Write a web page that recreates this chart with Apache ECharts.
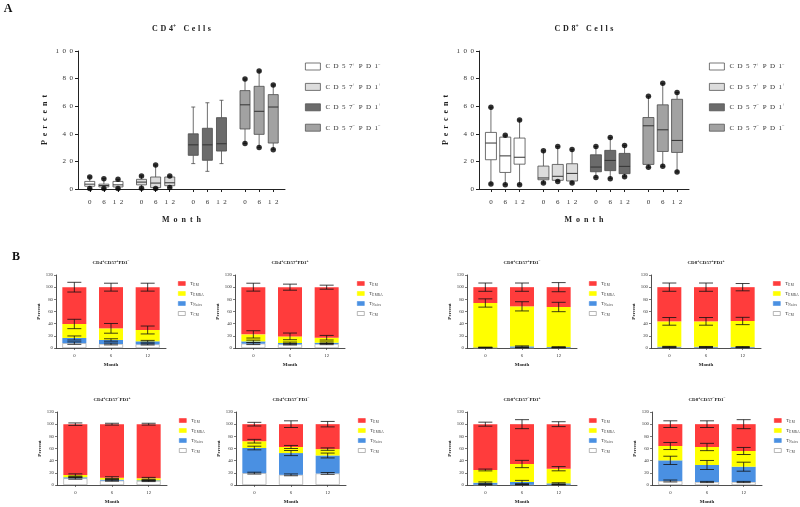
<!DOCTYPE html>
<html><head><meta charset="utf-8">
<script src="https://cdn.jsdelivr.net/npm/echarts@6/dist/echarts.min.js"></script>
<style>html,body{margin:0;padding:0;background:#fff}#c{width:800px;height:507px}</style>
</head><body><div id="c"></div>
<script>
const FONT = "'Liberation Serif','DejaVu Serif',serif";
const TXT = '#222';

// ---------- Panel A data ----------
const MONTHS = ['0', '6', '12'];
const BOX_GROUPS = ['CD57+PD1-', 'CD57+PD1+', 'CD57-PD1+', 'CD57-PD1-'];
const BOX_COLORS = ['#ffffff', '#dcdcdc', '#6b6b6b', '#a2a2a2'];
// per group, per month: [low, Q1, median, Q3, high]
const CD4_BOX = [
  [[0.3, 2, 3.5, 5.5, 8.7], [0.3, 1.5, 2.5, 3.5, 7.5], [0.3, 1.5, 3, 5.5, 7]],
  [[0.5, 3, 5, 7, 9.5], [0.4, 1, 4.3, 8.7, 17.4], [1, 2.4, 4.5, 8.7, 9.5]],
  [[18.4, 24.4, 32, 40, 59.4], [12.8, 20.8, 32, 44, 62.5], [18.4, 27.5, 32.8, 51.7, 64.3]],
  [[32.9, 43.5, 61, 71.3, 79.7], [30, 39.6, 56.3, 74.4, 85.5], [28.5, 33.3, 59.4, 68.4, 75.4]]
];
const CD4_DOTS = [true, true, false, true];
const CD8_BOX = [
  [[3.6, 21.2, 33.3, 41, 59.3], [3.1, 12, 24, 37.6, 39], [3.1, 18, 23, 36.9, 50]],
  [[4.3, 6.7, 8, 16.6, 27.7], [5.5, 6.3, 9.2, 17.8, 30.8], [4.3, 5.8, 11.3, 18.3, 28.7]],
  [[8.4, 12.5, 15.9, 24.8, 30.8], [7.5, 13.3, 20.7, 28, 37.3], [8.9, 11.1, 16.4, 25.8, 31.6]],
  [[15.7, 17.8, 45.8, 51.8, 67.2], [16.4, 27.2, 42.9, 61, 76.6], [12.3, 26.5, 35.2, 65, 69.9]]
];
const CD8_DOTS = [true, true, true, true];

// ---------- Panel B data ----------
const SUBSETS = ['TCM', 'TNaive', 'TEMRA', 'TEM'];          // stack order, bottom -> top
const SUBSET_SUB = { TCM: 'CM', TNaive: 'Naive', TEMRA: 'EMRA', TEM: 'EM' };
const SUBSET_COLORS = { TCM: '#ffffff', TNaive: '#4a90e2', TEMRA: '#ffff00', TEM: '#ff3c3c' };
const LEGEND_ORDER = ['TEM', 'TEMRA', 'TNaive', 'TCM'];
const B_TITLES = ['CD4+CD57+PD1-', 'CD4+CD57+PD1+', 'CD8+CD57+PD1-', 'CD8+CD57+PD1+',
                  'CD4+CD57-PD1+', 'CD4+CD57-PD1-', 'CD8+CD57-PD1+', 'CD8+CD57-PD1-'];
// rows: TCM, TNaive, TEMRA, TEM ; columns: months 0, 6, 12
const B1_MEAN = [[8, 6.6, 6], [8.5, 6.6, 5], [23, 19.1, 18.6], [60.5, 67.7, 70.4]];
const B1_SD   = [[2, 1.5, 1], [3.3, 2, 1.5], [7.7, 8, 6.5], [8, 6.5, 6.5]];
const B2_MEAN = [[7.1, 6, 6.5], [3.8, 2.2, 2.2], [11.5, 10.9, 8.2], [77.6, 80.9, 83.1]];
const B2_SD   = [[1.5, 1, 1], [2, 1.5, 1.2], [6, 5.5, 3.8], [6.5, 5, 3.3]];
const B3_MEAN = [[0.5, 0.5, 0.5], [0.5, 2.2, 1.1], [73, 65.8, 65.8], [26, 31.5, 32.6]];
const B3_SD   = [[0.3, 0.3, 0.3], [0.5, 0.8, 0.6], [6.8, 7.6, 7.7], [6.8, 6.8, 7.5]];
const B4_MEAN = [[1, 1, 0.8], [1.2, 1, 1], [41.6, 41.8, 42.6], [56.2, 56.2, 55.6]];
const B4_SD   = [[0.4, 0.4, 0.4], [0.5, 0.5, 0.5], [6.3, 6.3, 6], [6.8, 6.8, 6]];
const B5_MEAN = [[11, 7.2, 6.6], [1.7, 1.6, 1.1], [3.8, 3.3, 3.3], [83.5, 87.9, 89]];
const B5_SD   = [[1.5, 1, 1], [0.8, 0.6, 0.6], [1.8, 1.5, 1.5], [2, 1.5, 1.5]];
const B6_MEAN = [[19.5, 16.7, 19], [41.3, 35.8, 29.5], [11.2, 10, 10.5], [28, 37.5, 41]];
const B6_SD   = [[1.5, 1.5, 1.5], [3, 4.2, 4], [3, 2.5, 2], [3, 5.5, 4.5]];
const B7_MEAN = [[0.5, 0.5, 0.5], [3.3, 4.4, 2.2], [20.9, 29.6, 24.1], [75.3, 65.5, 73.2]];
const B7_SD   = [[0.3, 0.3, 0.3], [1.2, 2.7, 1], [1.5, 6, 3.5], [3.3, 7.4, 4]];
const B8_MEAN = [[6.6, 4.9, 4.9], [33.9, 28, 25.2], [23.6, 29.6, 25.8], [35.9, 37.5, 44.1]];
const B8_SD   = [[1.6, 1, 1], [6.8, 7.4, 7.4], [5.8, 6, 5.8], [5.5, 5.5, 7.4]];
const B_MEANS = [B1_MEAN, B2_MEAN, B3_MEAN, B4_MEAN, B5_MEAN, B6_MEAN, B7_MEAN, B8_MEAN];
const B_SDS = [B1_SD, B2_SD, B3_SD, B4_SD, B5_SD, B6_SD, B7_SD, B8_SD];

// ---------- helpers ----------
const EN = '\u2002';
const spaced = (s, sp) => String(s).split('').join(sp);
function signText(str, sp) {
  let out = '', buf = '', first = true;
  const flush = () => { if (buf) { out += '{n|' + buf + '}'; buf = ''; } };
  for (const c of str) {
    if (c === '+' || c === '-') { flush(); out += '{s|' + (c === '+' ? '+' : '\u2212') + '}'; }
    else { buf += (first ? '' : sp) + c; }
    first = false;
  }
  flush();
  return out;
}

// slot layout of the box-plot category axis (44 slots, 3 months per group, gap between groups)
const NSLOT = 44;
const slotOf = (g, m) => 2 + g * 11 + m * 3;
const SLOTS = Array.from({ length: NSLOT }, (_, i) => 's' + i);
const SLOT_LABEL = Array(NSLOT).fill('');
for (let g = 0; g < 4; g++) for (let m = 0; m < 3; m++) SLOT_LABEL[slotOf(g, m)] = spaced(MONTHS[m], EN);

const grids = [], xAxes = [], yAxes = [], series = [], legends = [], graphics = [];

// ---------- Panel A ----------
const A_PANELS = [
  { title: 'CD4+ Cells', stats: CD4_BOX, dots: CD4_DOTS, left: 78, width: 207, boxW: 10, legLeft: 300 },
  { title: 'CD8+ Cells', stats: CD8_BOX, dots: CD8_DOTS, left: 479, width: 210, boxW: 11, legLeft: 704 }
];
A_PANELS.forEach((p, pi) => {
  grids.push({ left: p.left, top: 51, width: p.width, height: 138 });
  xAxes.push({
    gridIndex: pi, type: 'category', data: SLOTS, boundaryGap: true,
    axisLine: { show: true, lineStyle: { color: TXT, width: 1 } },
    axisTick: { show: true, length: 3, alignWithLabel: true, interval: (i) => SLOT_LABEL[i] !== '', lineStyle: { color: TXT } },
    axisLabel: { show: true, interval: (i) => SLOT_LABEL[i] !== '', formatter: (v, i) => SLOT_LABEL[i],
      fontSize: 7, margin: 10, color: '#333', fontFamily: FONT },
    splitLine: { show: false },
    name: spaced('Month', EN), nameLocation: 'middle', nameGap: 27,
    nameTextStyle: { fontSize: 8, fontWeight: 'bold', color: TXT, fontFamily: FONT }
  });
  yAxes.push({
    gridIndex: pi, type: 'value', min: 0, max: 100, interval: 20,
    axisLine: { show: true, lineStyle: { color: TXT, width: 1 } },
    axisTick: { show: true, length: 3, lineStyle: { color: TXT } },
    splitLine: { show: false },
    axisLabel: { fontSize: 7, margin: 5, color: '#333', fontFamily: FONT, formatter: (v) => spaced(v, EN) },
    name: spaced('Percent', EN), nameLocation: 'middle', nameGap: 29, nameRotate: 90,
    nameTextStyle: { fontSize: 8, fontWeight: 'bold', color: TXT, fontFamily: FONT }
  });
  const dotData = [];
  BOX_GROUPS.forEach((gname, g) => {
    const color = BOX_COLORS[g];
    const data = p.stats[g].map((s, m) => [slotOf(g, m)].concat(s));
    if (p.dots[g]) p.stats[g].forEach((s, m) => { dotData.push([slotOf(g, m), s[0]]); dotData.push([slotOf(g, m), s[4]]); });
    const bw = p.boxW;
    series.push({
      type: 'custom', name: gname, xAxisIndex: pi, yAxisIndex: pi,
      encode: { x: 0, y: [1, 2, 3, 4, 5] },
      itemStyle: { color },
      data,
      renderItem: (params, api) => {
        const x = api.value(0);
        const pt = [1, 2, 3, 4, 5].map(k => api.coord([x, api.value(k)]));
        const cx = pt[0][0];
        const ls = { stroke: '#4a4a4a', lineWidth: 0.8 };
        return {
          type: 'group', children: [
            { type: 'line', shape: { x1: cx, y1: pt[0][1], x2: cx, y2: pt[1][1] }, style: ls },
            { type: 'line', shape: { x1: cx, y1: pt[3][1], x2: cx, y2: pt[4][1] }, style: ls },
            { type: 'line', shape: { x1: cx - 2, y1: pt[0][1], x2: cx + 2, y2: pt[0][1] }, style: ls },
            { type: 'line', shape: { x1: cx - 2, y1: pt[4][1], x2: cx + 2, y2: pt[4][1] }, style: ls },
            { type: 'rect', shape: { x: cx - bw / 2, y: pt[3][1], width: bw, height: pt[1][1] - pt[3][1] },
              style: { fill: color, stroke: '#4a4a4a', lineWidth: 0.8 } },
            { type: 'line', shape: { x1: cx - bw / 2, y1: pt[2][1], x2: cx + bw / 2, y2: pt[2][1] },
              style: { stroke: '#333', lineWidth: 1 } }
          ]
        };
      }
    });
  });
  series.push({
    type: 'scatter', name: 'outliers', xAxisIndex: pi, yAxisIndex: pi, symbol: 'circle', symbolSize: 5.5,
    itemStyle: { color: '#000' }, data: dotData, z: 5
  });
  legends.push({
    orient: 'vertical', left: p.legLeft, top: 57, icon: 'rect', itemWidth: 15, itemHeight: 7, itemGap: 12,
    selectedMode: false,
    data: BOX_GROUPS.map((n, g) => ({ name: n, itemStyle: { color: BOX_COLORS[g], borderColor: '#555', borderWidth: 0.8 } })),
    formatter: (n) => signText(n, EN),
    textStyle: { rich: {
      n: { fontSize: 7, lineHeight: 9, color: '#333', fontFamily: FONT },
      s: { fontSize: 4.5, lineHeight: 5, verticalAlign: 'top', color: '#333', fontFamily: FONT }
    } }
  });
  graphics.push({
    type: 'text', x: p.left + p.width / 2, y: 29,
    style: { text: signText(p.title, '\u2004'), align: 'center', verticalAlign: 'middle',
      rich: {
        n: { fontSize: 8, fontWeight: 'bold', lineHeight: 11, fill: TXT, fontFamily: FONT },
        s: { fontSize: 5.5, fontWeight: 'bold', lineHeight: 6, verticalAlign: 'top', fill: TXT, fontFamily: FONT }
      } }
  });
});

// ---------- Panel B ----------
const B_POS = [[56, 275], [235, 275], [467, 275], [651, 275], [57, 412], [236, 412], [467, 412], [652, 412]];
B_TITLES.forEach((title, k) => {
  const gi = 2 + k;
  const [left, top] = B_POS[k];
  grids.push({ left, top, width: 110, height: 73 });
  xAxes.push({
    gridIndex: gi, type: 'category', data: MONTHS,
    axisLine: { show: true, lineStyle: { color: TXT, width: 0.8 } },
    axisTick: { show: true, length: 2, alignWithLabel: true, lineStyle: { color: TXT, width: 0.6 } },
    axisLabel: { fontSize: 4.8, margin: 5, color: '#333', fontFamily: FONT },
    name: 'Month', nameLocation: 'middle', nameGap: 14,
    nameTextStyle: { fontSize: 5, fontWeight: 'bold', color: TXT, fontFamily: FONT }
  });
  yAxes.push({
    gridIndex: gi, type: 'value', min: 0, max: 120, interval: 20,
    axisLine: { show: true, lineStyle: { color: TXT, width: 0.8 } },
    axisTick: { show: true, length: 2, lineStyle: { color: TXT, width: 0.6 } },
    splitLine: { show: false },
    axisLabel: { fontSize: 4.8, margin: 3, color: '#333', fontFamily: FONT },
    name: 'Percent', nameLocation: 'middle', nameGap: 15, nameRotate: 90,
    nameTextStyle: { fontSize: 5, fontWeight: 'bold', color: TXT, fontFamily: FONT }
  });
  const mean = B_MEANS[k], sd = B_SDS[k];
  SUBSETS.forEach((s, si) => {
    series.push({
      type: 'bar', name: s, xAxisIndex: gi, yAxisIndex: gi, stack: 'b' + k, barWidth: 24,
      itemStyle: s === 'TCM' ? { color: SUBSET_COLORS[s], borderColor: '#999', borderWidth: 0.6 } : { color: SUBSET_COLORS[s] },
      data: mean[si]
    });
  });
  const errData = [];
  for (let m = 0; m < 3; m++) {
    let cum = 0;
    for (let si = 0; si < 4; si++) { cum += mean[si][m]; errData.push([m, cum, sd[si][m]]); }
  }
  series.push({
    type: 'custom', name: 'err' + k, xAxisIndex: gi, yAxisIndex: gi, z: 4,
    encode: { x: 0, y: 1 }, data: errData,
    renderItem: (params, api) => {
      const x = api.value(0), c = api.value(1), d = api.value(2);
      const t = api.coord([x, c + d]), b = api.coord([x, c - d]);
      const hw = 7, st = { stroke: '#111', lineWidth: 0.8 };
      return { type: 'group', children: [
        { type: 'line', shape: { x1: t[0], y1: t[1], x2: b[0], y2: b[1] }, style: st },
        { type: 'line', shape: { x1: t[0] - hw, y1: t[1], x2: t[0] + hw, y2: t[1] }, style: st },
        { type: 'line', shape: { x1: b[0] - hw, y1: b[1], x2: b[0] + hw, y2: b[1] }, style: st }
      ] };
    }
  });
  legends.push({
    orient: 'vertical', left: left + 117, top: top + 1, icon: 'rect', itemWidth: 7, itemHeight: 4, itemGap: 4,
    selectedMode: false,
    data: LEGEND_ORDER.map(n => ({ name: n, itemStyle: { color: SUBSET_COLORS[n], borderColor: n === 'TCM' ? '#888' : SUBSET_COLORS[n], borderWidth: 0.6 } })),
    formatter: (n) => '{t|T}{b|' + spaced(SUBSET_SUB[n], '\u200a') + '}',
    textStyle: { rich: {
      t: { fontSize: 5, lineHeight: 7, color: '#333', fontFamily: FONT },
      b: { fontSize: 3.3, lineHeight: 4, verticalAlign: 'bottom', color: '#333', fontFamily: FONT }
    } }
  });
  graphics.push({
    type: 'text', x: left + 55, y: top - 12.5,
    style: { text: signText(title, ''), align: 'center', verticalAlign: 'middle',
      rich: {
        n: { fontSize: 5, fontWeight: 'bold', lineHeight: 7, fill: TXT, fontFamily: FONT },
        s: { fontSize: 3.5, fontWeight: 'bold', lineHeight: 4, verticalAlign: 'top', fill: TXT, fontFamily: FONT }
      } }
  });
});

graphics.push({ type: 'text', x: 8, y: 9, style: { text: 'A', align: 'center', verticalAlign: 'middle', fontSize: 12, fontWeight: 'bold', fill: '#111', fontFamily: FONT } });
graphics.push({ type: 'text', x: 16, y: 257, style: { text: 'B', align: 'center', verticalAlign: 'middle', fontSize: 12, fontWeight: 'bold', fill: '#111', fontFamily: FONT } });

const chart = echarts.init(document.getElementById('c'), null, { renderer: 'canvas' });
chart.setOption({
  backgroundColor: '#fff',
  animation: false,
  textStyle: { fontFamily: FONT },
  grid: grids, xAxis: xAxes, yAxis: yAxes, series, legend: legends, graphic: graphics,
  tooltip: { show: false }
});
</script></body></html>
